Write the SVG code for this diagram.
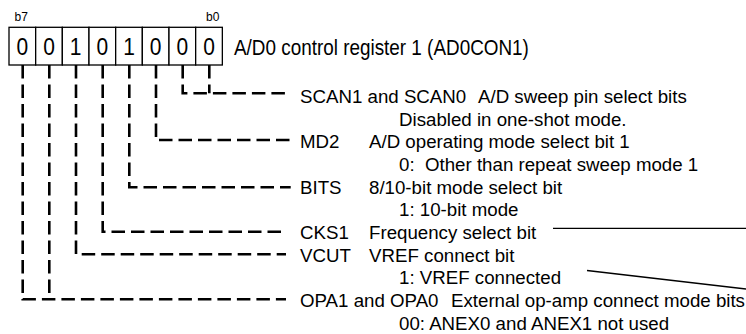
<svg xmlns="http://www.w3.org/2000/svg" width="746" height="334" viewBox="0 0 746 334">
<style>
text{font-family:"Liberation Sans",Arial,sans-serif;fill:#000}
.t{font-size:18.7px}
.d{font-size:21px;text-anchor:middle}
.s{font-size:12px}
.box{fill:#fff;stroke:#000;stroke-width:1.3}
.dash{fill:none;stroke:#000;stroke-width:2.6;stroke-dasharray:13.5 6}
.thin{fill:none;stroke:#000;stroke-width:1.3}
</style>
<rect width="746" height="334" fill="#fff"/>
<g id="register">
<rect class="box" x="9" y="27.3" width="26.67" height="37.7"/>
<rect class="box" x="35.67" y="27.3" width="26.67" height="37.7"/>
<rect class="box" x="62.33" y="27.3" width="26.67" height="37.7"/>
<rect class="box" x="89" y="27.3" width="26.67" height="37.7"/>
<rect class="box" x="115.67" y="27.3" width="26.67" height="37.7"/>
<rect class="box" x="142.33" y="27.3" width="26.67" height="37.7"/>
<rect class="box" x="169" y="27.3" width="26.67" height="37.7"/>
<rect class="box" x="195.67" y="27.3" width="26.67" height="37.7"/>
<g transform="translate(0,55) scale(1,1.12)">
<text class="d" x="22.3" y="0">0</text>
<text class="d" x="49" y="0">0</text>
<text class="d" x="75.7" y="0">1</text>
<text class="d" x="102.3" y="0">0</text>
<text class="d" x="129" y="0">1</text>
<text class="d" x="155.7" y="0">0</text>
<text class="d" x="182.3" y="0">0</text>
<text class="d" x="209" y="0">0</text>
</g>
<text class="s" x="14.5" y="20.7">b7</text>
<text class="s" x="206" y="20.7">b0</text>
<text x="234" y="0" transform="translate(0,54.5) scale(1,1.2)" style="font-size:18.9px">A/D0 control register 1 (AD0CON1)</text>
</g>
<g id="connectors">
<path class="dash" d="M209.3 65V93.3"/>
<path class="dash" d="M182.7 65V93.3H286"/>
<path class="dash" d="M156 65V140H290"/>
<path class="dash" d="M129.3 65V187.3H290.7"/>
<path class="dash" d="M102.7 65V231.7H283"/>
<path class="dash" d="M76 65V254.3H286"/>
<path class="dash" d="M49.3 65V299.3"/>
<path class="dash" d="M22.7 65V299.3H286"/>
<path class="thin" d="M553 228.3H746"/>
<path class="thin" d="M587 270.5L746 289"/>
</g>
<g id="scan">
<text class="t" x="300" y="103">SCAN1 and SCAN0</text>
<text class="t" x="478" y="103">A/D sweep pin select bits</text>
<text class="t" x="399" y="125.65">Disabled in one-shot mode.</text>
</g>
<g id="md2">
<text class="t" x="300" y="148.3">MD2</text>
<text class="t" x="369" y="148.3">A/D operating mode select bit 1</text>
<text class="t" x="399" y="170.95">0:<tspan x="425">Other than repeat sweep mode 1</tspan></text>
</g>
<g id="bits">
<text class="t" x="300" y="193.6">BITS</text>
<text class="t" x="369" y="193.6">8/10-bit mode select bit</text>
<text class="t" x="399" y="216.25">1: 10-bit mode</text>
</g>
<g id="cks1">
<text class="t" x="300" y="238.9">CKS1</text>
<text class="t" x="369" y="238.9">Frequency select bit</text>
</g>
<g id="vcut">
<text class="t" x="300" y="261.55">VCUT</text>
<text class="t" x="369" y="261.55">VREF connect bit</text>
<text class="t" x="399" y="284.2">1: VREF connected</text>
</g>
<g id="opa">
<text class="t" x="300" y="306.85">OPA1 and OPA0<tspan x="451">External op-amp connect mode bits</tspan></text>
<text class="t" x="399" y="329.5">00: ANEX0 and ANEX1 not used</text>
</g>
</svg>
